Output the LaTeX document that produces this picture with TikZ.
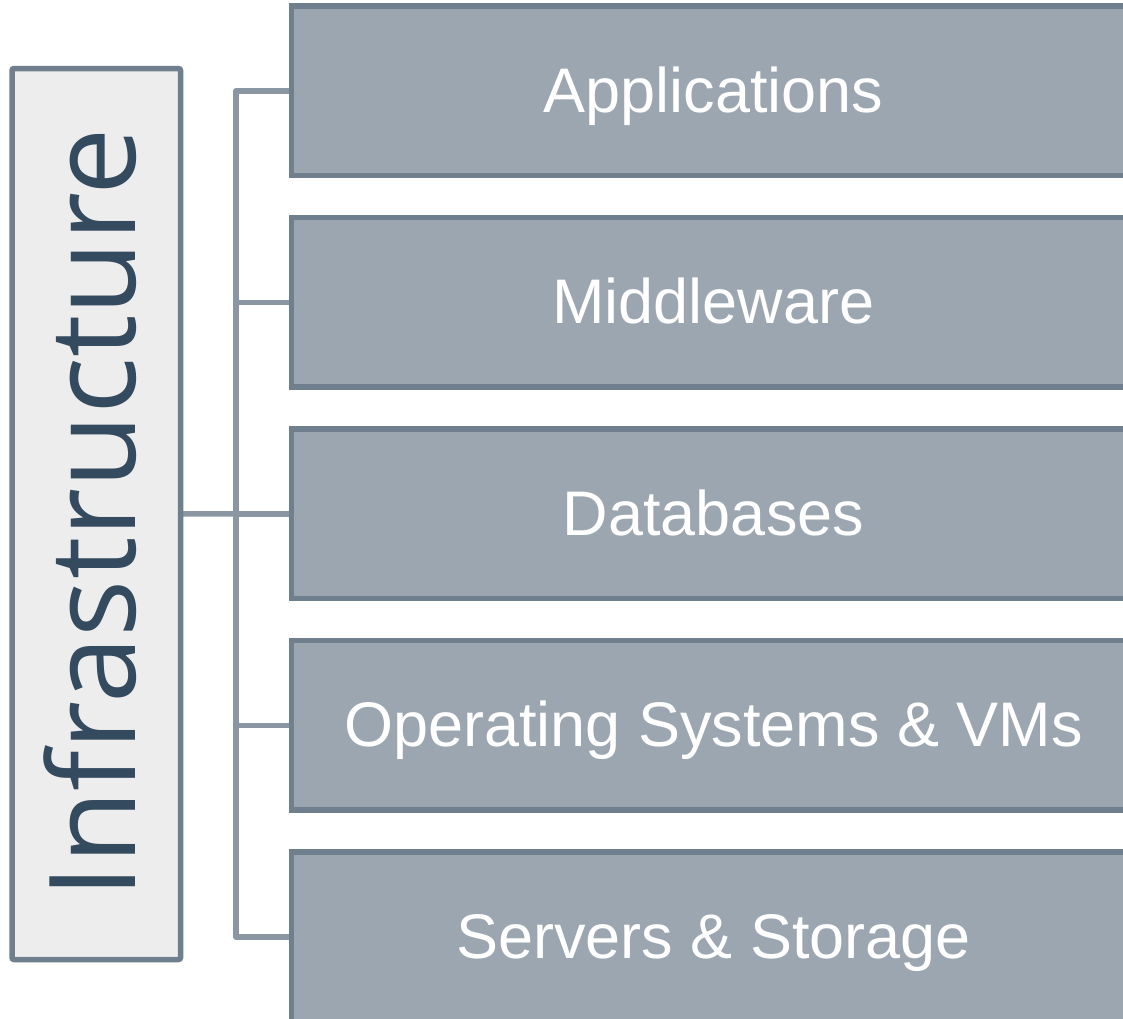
\documentclass[tikz,border=0pt]{standalone}
\usepackage{fontspec}
\setmainfont{Liberation Sans}
\newfontfamily\infrafont{Open Sans}
\usetikzlibrary{backgrounds}
\definecolor{boxfill}{HTML}{9CA6B0}
\definecolor{boxline}{HTML}{707F8E}
\definecolor{infrafill}{HTML}{EDEDED}
\definecolor{infratext}{HTML}{344A5E}
\definecolor{linkcol}{HTML}{8A96A2}
\tikzset{
  layerbox/.style={draw=boxline, fill=boxfill, line width=5.5pt, rectangle,
    minimum width=844pt, minimum height=169.5pt, inner sep=0pt, outer sep=0pt,
    anchor=west, text=white, font=\fontsize{63}{70}\selectfont,
    text height=51pt, text depth=8pt},
  infrabox/.style={draw=boxline, fill=infrafill, line width=5.5pt, rectangle,
    rounded corners=2pt, minimum width=168.5pt, minimum height=891pt,
    inner sep=0pt, outer sep=0pt},
  link/.style={draw=linkcol, line width=5.5pt, line join=round}
}
\begin{document}
\begin{tikzpicture}[x=1pt,y=1pt]
\useasboundingbox (0,0) rectangle (1123,-1018);
\clip (0,0) rectangle (1123,-1018);
% left box
\node[infrabox] (infra) at (96.25,-514) {};
\node[rotate=90, anchor=base, text=infratext, font=\infrafont\fontsize{120}{130}\selectfont, inner sep=0pt] (infratxt) at (135,-513) {Infrastructure};
% layer boxes
\node[layerbox] (app) at (291.5,-90.75) {Applications};
\node[layerbox] (mid) at (291.5,-302.25) {Middleware};
\node[layerbox] (db) at (291.5,-513.75) {Databases};
\node[layerbox] (os) at (291.5,-725.25) {Operating Systems \& VMs};
\node[layerbox] (srv) at (291.5,-936.75) {Servers \& Storage};
% junctions
\coordinate (j1) at (236,-90.75);
\coordinate (j2) at (236,-302.25);
\coordinate (j3) at (236,-513.75);
\coordinate (j4) at (236,-725.25);
\coordinate (j5) at (236,-936.75);
\begin{scope}[on background layer]
\fill[white] (0,0) rectangle (1123,-1018);
\draw[link] (app.west) -- (j1) -- (j5) -- (srv.west);
\draw[link] (mid.west) -- (j2);
\draw[link] (db.west) -- (j3);
\draw[link] (os.west) -- (j4);
\draw[link] (infra.east) -- (j3);
\end{scope}
\end{tikzpicture}
\end{document}
